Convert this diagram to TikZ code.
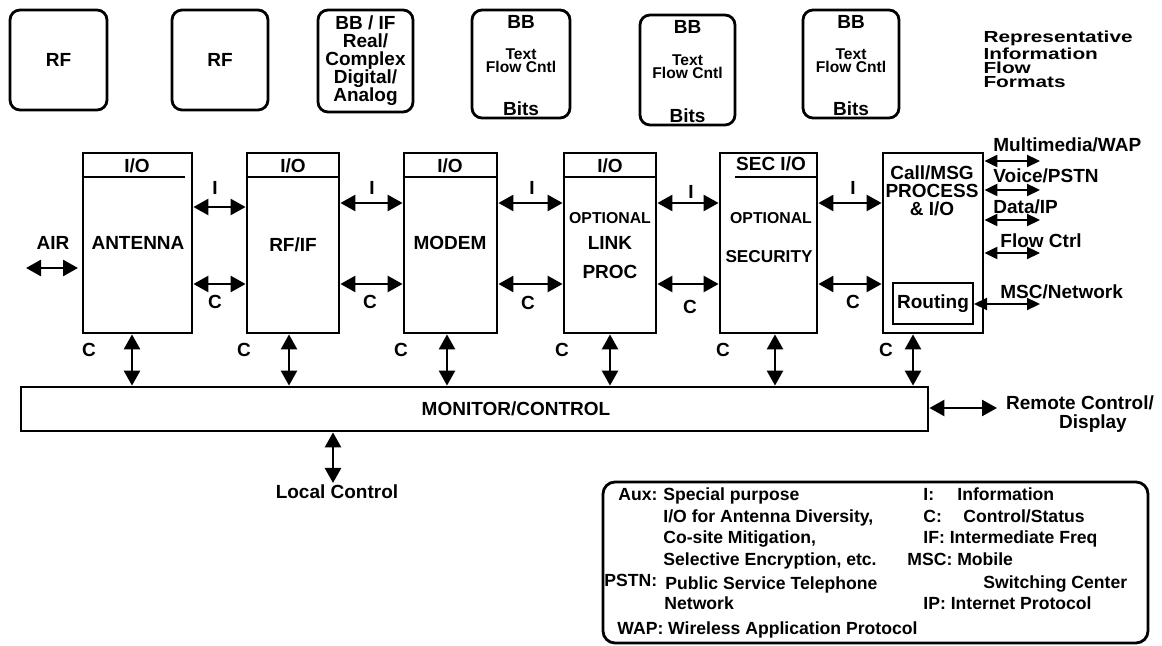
\documentclass[tikz,border=0pt]{standalone}
\usepackage{fontspec}
\setmainfont{Liberation Sans}
\usetikzlibrary{arrows.meta,positioning}

\begin{document}
\begin{tikzpicture}[
    x = 0.5pt, y = -0.5pt,
    every node/.style = {font = \bfseries\fontsize{9.5}{9}\selectfont, inner sep = 0pt, align = center},
    fmt/.style = {draw, line width = 1.4pt, rounded corners = 5pt},
    blk/.style = {draw, line width = 1.4pt, minimum height = 90pt},
    io/.style = {{Triangle[length=7.5pt,width=8pt]}-{Triangle[length=7.5pt,width=8pt]}, line width = 1.3pt},
    flowio/.style = {{Triangle[length=6.5pt,width=6pt]}-{Triangle[length=6.5pt,width=6pt]}, line width = 1.1pt},
    small/.style = {font = \bfseries\fontsize{7.8}{6.5}\selectfont},
    opt/.style = {font = \bfseries\fontsize{7.9}{8}\selectfont},
    leg/.style = {anchor = base west, font = \bfseries\fontsize{8.8}{10}\selectfont}]

\useasboundingbox (0,0) rectangle (1162,646);

\node[fmt, minimum width=48.5pt, minimum height=50pt] (rfa) at (58.5,60) {RF};
\node[fmt, minimum width=48pt, minimum height=50pt] (rfb) at (220,60) {RF};
\node[fmt, minimum width=47.5pt, minimum height=51pt] (bbif) at (365.5,61)
	{BB / IF\\Real/\\Complex\\Digital/\\Analog};
\node[fmt, minimum width=49pt, minimum height=54pt] (bba) at (521,64) {};
\node[fmt, minimum width=47.5pt, minimum height=55pt] (bbb) at (687.5,70) {};
\node[fmt, minimum width=48pt, minimum height=54pt] (bbc) at (851,64) {};
\foreach \b in {bba,bbb,bbc} {
	\node (\b-t) at ([yshift=-6.5pt]\b.north) {BB};
	\node[small] (\b-m) at ([yshift=1.5pt]\b.center) {Text\\Flow Cntl};
	\node (\b-b) at ([yshift=5.5pt]\b.south) {Bits};
}
\node[anchor=west, align=left, font=\bfseries\fontsize{8}{7}\selectfont, xscale=1.3, transform shape] (rep) at (983,59)
	{Representative\\Information\\Flow\\Formats};

\node[blk, minimum width=54.5pt] (ant) at (137.5,243) {};
\node[blk, minimum width=46pt] (rfif) at (293,243) {};
\node[blk, minimum width=46.5pt] (modem) at (450.5,243) {};
\node[blk, minimum width=46pt] (link) at (610,243) {};
\node[blk, minimum width=48.5pt] (sec) at (768.5,243) {};
\node[blk, minimum width=50pt] (call) at (933,243) {};

\draw[line width=1.4pt] (ant.north west |- 0,177) -- (185,177)
	  (rfif.west |- 0,177) -- (rfif.east |- 0,177)
	  (modem.west |- 0,177) -- (modem.east |- 0,177)
	  (link.west |- 0,177) -- (link.east |- 0,177)
	  (735,177) -- (sec.east |- 0,177);

\node (ant-io) at (137,166) {I/O};
\node (rfif-io) at (293,166) {I/O};
\node (modem-io) at (450,166) {I/O};
\node (link-io) at (610,166) {I/O};
\node (sec-io) at (771,164) {SEC I/O};

\node (ant-txt) at (138,243) {ANTENNA};
\node (rfif-txt) at (293,245) {RF/IF};
\node (modem-txt) at (450,243) {MODEM};
\node[opt] (link-opt) at (610,218) {OPTIONAL};
\node (link-txt) at (610,243) {LINK};
\node (link-proc) at (610,272) {PROC};
\node[opt] (sec-opt) at (771,218) {OPTIONAL};
\node[font=\bfseries\fontsize{8.6}{9}\selectfont] (sec-txt) at (769,257) {SECURITY};
\node (call-txt) at (932,191) {Call/MSG\\PROCESS\\\& I/O};
\node[draw, line width=1pt, minimum width=40pt, minimum height=20.5pt] (rout) at (933,303.5) {Routing};

\coordinate (air-a) at (26,268);
\coordinate (air-b) at (78,268);
\draw[io] (air-a) -- (air-b);
\node (air) at (53,243) {AIR};

\draw[io] (ant.east |- 0,207) -- (rfif.west |- 0,207);
\draw[io] (rfif.east |- 0,203) -- (modem.west |- 0,203);
\draw[io] (modem.east |- 0,203) -- (link.west |- 0,203);
\draw[io] (link.east |- 0,203) -- (sec.west |- 0,203);
\draw[io] (sec.east |- 0,203) -- (call.west |- 0,203);
\foreach \a/\b in {ant/rfif,rfif/modem,modem/link,link/sec,sec/call}
	\draw[io] (\a.east |- 0,284) -- (\b.west |- 0,284);

\node (i1) at (215,188) {I};
\node (i2) at (372,188) {I};
\node (i3) at (532,188) {I};
\node (i4) at (691,192) {I};
\node (i5) at (853,188) {I};
\node (c1) at (215,302) {C};
\node (c2) at (370,302) {C};
\node (c3) at (528,303) {C};
\node (c4) at (690,307) {C};
\node (c5) at (853,302) {C};

\coordinate (mm) at (1040,161);
\coordinate (vp) at (1040,190);
\coordinate (dip) at (1040,220);
\coordinate (fc) at (1040,253);
\coordinate (msc) at (1040,304);
\draw[flowio] (call.east |- mm) -- (mm);
\draw[flowio] (call.east |- vp) -- (vp);
\draw[flowio] (call.east |- dip) -- (dip);
\draw[flowio] (call.east |- fc) -- (fc);
\draw[flowio] (rout.east |- msc) -- (msc);
\node[anchor=west] (mm-l) at (993,145) {Multimedia/WAP};
\node[anchor=west] (vp-l) at (993,176) {Voice/PSTN};
\node[anchor=west] (dip-l) at (993,207) {Data/IP};
\node[anchor=west] (fc-l) at (1000,241) {Flow Ctrl};
\node[anchor=west] (msc-l) at (1000,292) {MSC/Network};

\node[blk, minimum width=453.5pt, minimum height=22pt] (mon) at (474.5,409) {};
\node (mon-txt) at (516,409) {MONITOR/CONTROL};
\foreach \b/\x/\cx in {ant/132/89,rfif/289/244,modem/447/401,link/610/562,sec/775/723,call/913/886} {
	\draw[io] (\b.south -| \x,0) -- (mon.north -| \x,0);
	\node (\b-c) at (\cx,350) {C};
}

\coordinate (rem) at (997,408);
\draw[io] (mon.east |- rem) -- (rem);
\node[anchor=base] (rem-a) at (1080,410) {Remote Control/};
\node[anchor=base] (rem-b) at (1093,429) {Display};

\coordinate (loc) at (333,483);
\draw[io] (mon.south -| loc) -- (loc);
\node (loc-l) at (337,492) {Local Control};

\node[draw, line width=1.4pt, rounded corners=6pt, minimum width=272.5pt, minimum height=80.5pt] (leg) at (875.5,562.5) {};
\node[leg] (aux) at (618,501) {Aux:};
\node[leg] (aux-1) at (663,501) {Special purpose};
\node[leg] (aux-2) at (663,523) {I/O for Antenna Diversity,};
\node[leg] (aux-3) at (663,544) {Co-site Mitigation,};
\node[leg] (aux-4) at (663,566) {Selective Encryption, etc.};
\node[leg] (pstn) at (604,586) {PSTN:};
\node[leg] (pstn-1) at (665,589) {Public Service Telephone};
\node[leg] (pstn-2) at (664,609) {Network};
\node[leg] (wap) at (617,634) {WAP: Wireless Application Protocol};
\node[leg] (k-i) at (923,501) {I:};
\node[leg] (k-i1) at (957,501) {Information};
\node[leg] (k-c) at (923,523) {C:};
\node[leg] (k-c1) at (963,523) {Control/Status};
\node[leg] (k-if) at (923,544) {IF: Intermediate Freq};
\node[leg] (k-msc) at (907,566) {MSC: Mobile};
\node[leg] (k-msc1) at (983,588) {Switching Center};
\node[leg] (k-ip) at (923,609) {IP: Internet Protocol};
\end{tikzpicture}
\end{document}
